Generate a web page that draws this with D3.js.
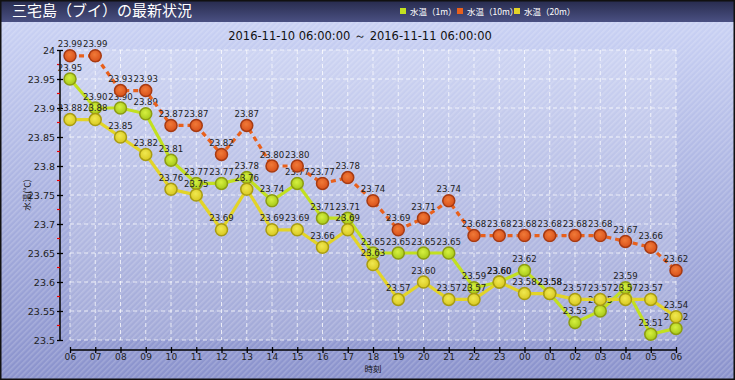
<!DOCTYPE html>
<html><head><meta charset="utf-8">
<script src="https://cdn.jsdelivr.net/npm/d3@7"></script>
<style>html,body{margin:0;padding:0;background:#fff;}svg{display:block;}</style>
</head><body>
<script>
const categories = ["06","07","08","09","10","11","12","13","14","15","16","17","18","19","20","21","22","23","00","01","02","03","04","05","06"];
const temp1m  = [23.95,23.90,23.90,23.89,23.81,23.77,23.77,23.78,23.74,23.77,23.71,23.71,23.65,23.65,23.65,23.65,23.59,23.60,23.62,23.58,23.53,23.55,23.59,23.51,23.52];
const temp10m = [23.99,23.99,23.93,23.93,23.87,23.87,23.82,23.87,23.80,23.80,23.77,23.78,23.74,23.69,23.71,23.74,23.68,23.68,23.68,23.68,23.68,23.68,23.67,23.66,23.62];
const temp20m = [23.88,23.88,23.85,23.82,23.76,23.75,23.69,23.76,23.69,23.69,23.66,23.69,23.63,23.57,23.60,23.57,23.57,23.60,23.58,23.58,23.57,23.57,23.57,23.57,23.54];
const seriesNames = ["水温（1m）","水温（10m）","水温（20m）"];
const yTicks = [23.5,23.55,23.6,23.65,23.7,23.75,23.8,23.85,23.9,23.95,24];
const title = "三宅島（ブイ）の最新状況";
const subtitle = "2016-11-10 06:00:00 ～ 2016-11-11 06:00:00";

const W = 735, H = 380;
const svg = d3.select("body").append("svg").attr("width", W).attr("height", H);
const defs = svg.append("defs");

const bg = defs.append("linearGradient").attr("id","bg").attr("x1",0).attr("y1",0).attr("x2",0).attr("y2",1);
bg.append("stop").attr("offset","0%").attr("stop-color","#cdd5f6");
bg.append("stop").attr("offset","100%").attr("stop-color","#8a92cc");
const tb = defs.append("linearGradient").attr("id","tb").attr("x1",0).attr("y1",0).attr("x2",0).attr("y2",1);
tb.append("stop").attr("offset","0%").attr("stop-color","#262a4c");
tb.append("stop").attr("offset","100%").attr("stop-color","#4a5082");
const pat = defs.append("pattern").attr("id","stripe").attr("patternUnits","userSpaceOnUse")
  .attr("width",4).attr("height",4).attr("patternTransform","rotate(45)");
pat.append("rect").attr("width",1.6).attr("height",4).attr("fill","rgba(255,255,255,0.18)");

const colors = [
  {line:"#c2e020", fillIn:"#d6f040", fillOut:"#a6c818", stroke:"#8c9c12", dash:null},
  {line:"#e8601c", fillIn:"#f07a38", fillOut:"#d8501a", stroke:"#a63a12", dash:"5,4"},
  {line:"#e2d428", fillIn:"#f0e850", fillOut:"#d8c820", stroke:"#a89c12", dash:null}
];
colors.forEach((c,i)=>{
  const g = defs.append("radialGradient").attr("id","mk"+i).attr("cx","45%").attr("cy","40%").attr("r","60%");
  g.append("stop").attr("offset","0%").attr("stop-color",c.fillIn);
  g.append("stop").attr("offset","100%").attr("stop-color",c.fillOut);
});

svg.append("rect").attr("width",W).attr("height",H).attr("fill","url(#bg)");
svg.append("rect").attr("width",W).attr("height",H).attr("fill","url(#stripe)");
svg.append("rect").attr("width",W).attr("height",22).attr("fill","url(#tb)");
svg.append("rect").attr("x",0.75).attr("y",0.75).attr("width",W-1.5).attr("height",H-1.5)
  .attr("fill","none").attr("stroke","#111").attr("stroke-width",1.5);

svg.append("text").attr("x",12).attr("y",16).attr("fill","#fff")
  .attr("font-family","'Noto Sans CJK JP'").attr("font-size",15).text(title);

// legend
const legX = [400,457,514];
seriesNames.forEach((n,i)=>{
  svg.append("rect").attr("x",legX[i]).attr("y",8).attr("width",6).attr("height",6).attr("fill",colors[i].line);
  svg.append("text").attr("x",legX[i]+10).attr("y",14.5).attr("fill","#fff")
    .attr("font-family","'Noto Sans CJK JP'").attr("font-size",8.5).text(n);
});

svg.append("text").attr("x",360).attr("y",40).attr("text-anchor","middle").attr("fill","#111")
  .attr("font-family","'DejaVu Sans'").attr("font-size",11.5).text(subtitle);

const x0 = 70, x1 = 676, yTop = 50, yBot = 340;
const x = d3.scalePoint().domain(d3.range(categories.length)).range([x0,x1]);
const y = d3.scaleLinear().domain([23.5,24]).range([yBot,yTop]);

// plot area
svg.append("rect").attr("x",x0).attr("y",yTop).attr("width",x1-x0).attr("height",yBot-yTop)
  .attr("fill","rgba(255,255,255,0.16)");
const grid = svg.append("g").attr("stroke","rgba(255,255,255,0.75)").attr("stroke-dasharray","4,3").attr("stroke-width",1);
yTicks.forEach(t=>grid.append("line").attr("x1",x0).attr("x2",x1).attr("y1",y(t)).attr("y2",y(t)));
categories.forEach((c,i)=>grid.append("line").attr("x1",x(i)).attr("x2",x(i)).attr("y1",yTop).attr("y2",yBot));

// y axis
const yAxis = d3.axisLeft(y).tickValues(yTicks).tickSize(3).tickPadding(3).tickFormat(d=>String(+d.toFixed(2)));
const yg = svg.append("g").attr("transform","translate(60,0)").call(yAxis);
yg.select(".domain").attr("stroke","#000").attr("stroke-width",1.5).attr("d",`M0,${yTop}V${yBot}`);
yg.selectAll(".tick line").attr("x2",-3).attr("x1",3).attr("stroke","#000").attr("stroke-width",1.3);
yg.selectAll(".tick text").attr("font-family","'DejaVu Sans'").attr("font-size",9.5).attr("fill","#222").attr("x",-5);
const minor = d3.range(0,10).map(i=>23.525+i*0.05);
yg.selectAll(".minor").data(minor).enter().append("line").attr("x1",-3).attr("x2",0)
  .attr("y1",d=>y(d)).attr("y2",d=>y(d)).attr("stroke","#e00").attr("stroke-width",1.2);

// x axis
const xAxis = d3.axisBottom(x).tickSize(3).tickPadding(1).tickFormat(i=>categories[i]);
const xg = svg.append("g").attr("transform","translate(0,350)").call(xAxis);
xg.select(".domain").attr("stroke","#000").attr("stroke-width",1.5).attr("d",`M${x0},0H${x1}`);
xg.selectAll(".tick line").attr("y1",-3).attr("y2",3).attr("stroke","#000").attr("stroke-width",1.3);
xg.selectAll(".tick text").attr("font-family","'DejaVu Sans'").attr("font-size",9).attr("fill","#222").attr("letter-spacing",0.3);

svg.append("text").attr("x",373).attr("y",372).attr("text-anchor","middle").attr("fill","#111")
  .attr("font-family","'Noto Sans CJK JP'").attr("font-size",8.5).text("時刻");
svg.append("text").attr("transform","translate(30,195) rotate(-90)").attr("text-anchor","middle").attr("fill","#111")
  .attr("font-family","'Noto Sans CJK JP'").attr("font-size",8.5).text("水温(℃)");

const allSeries = [temp1m,temp10m,temp20m];
const line = d3.line().x((d,i)=>x(i)).y(d=>y(d));
allSeries.forEach((s,k)=>{
  const c = colors[k];
  const g = svg.append("g");
  const p = g.append("path").attr("d",line(s)).attr("fill","none").attr("stroke",c.line).attr("stroke-width",3.2);
  if(c.dash) p.attr("stroke-dasharray",c.dash);
  g.selectAll("circle").data(s).enter().append("circle").attr("cx",(d,i)=>x(i)).attr("cy",d=>y(d)).attr("r",6)
    .attr("fill",`url(#mk${k})`).attr("stroke",c.stroke).attr("stroke-width",1.5);
  g.selectAll("text").data(s).enter().append("text").attr("x",(d,i)=>x(i)).attr("y",d=>y(d)-8.5)
    .attr("text-anchor","middle").attr("font-family","'DejaVu Sans'").attr("font-size",8.6).attr("fill","#222")
    .text(d=>d.toFixed(2));
});
</script>
</body></html>
